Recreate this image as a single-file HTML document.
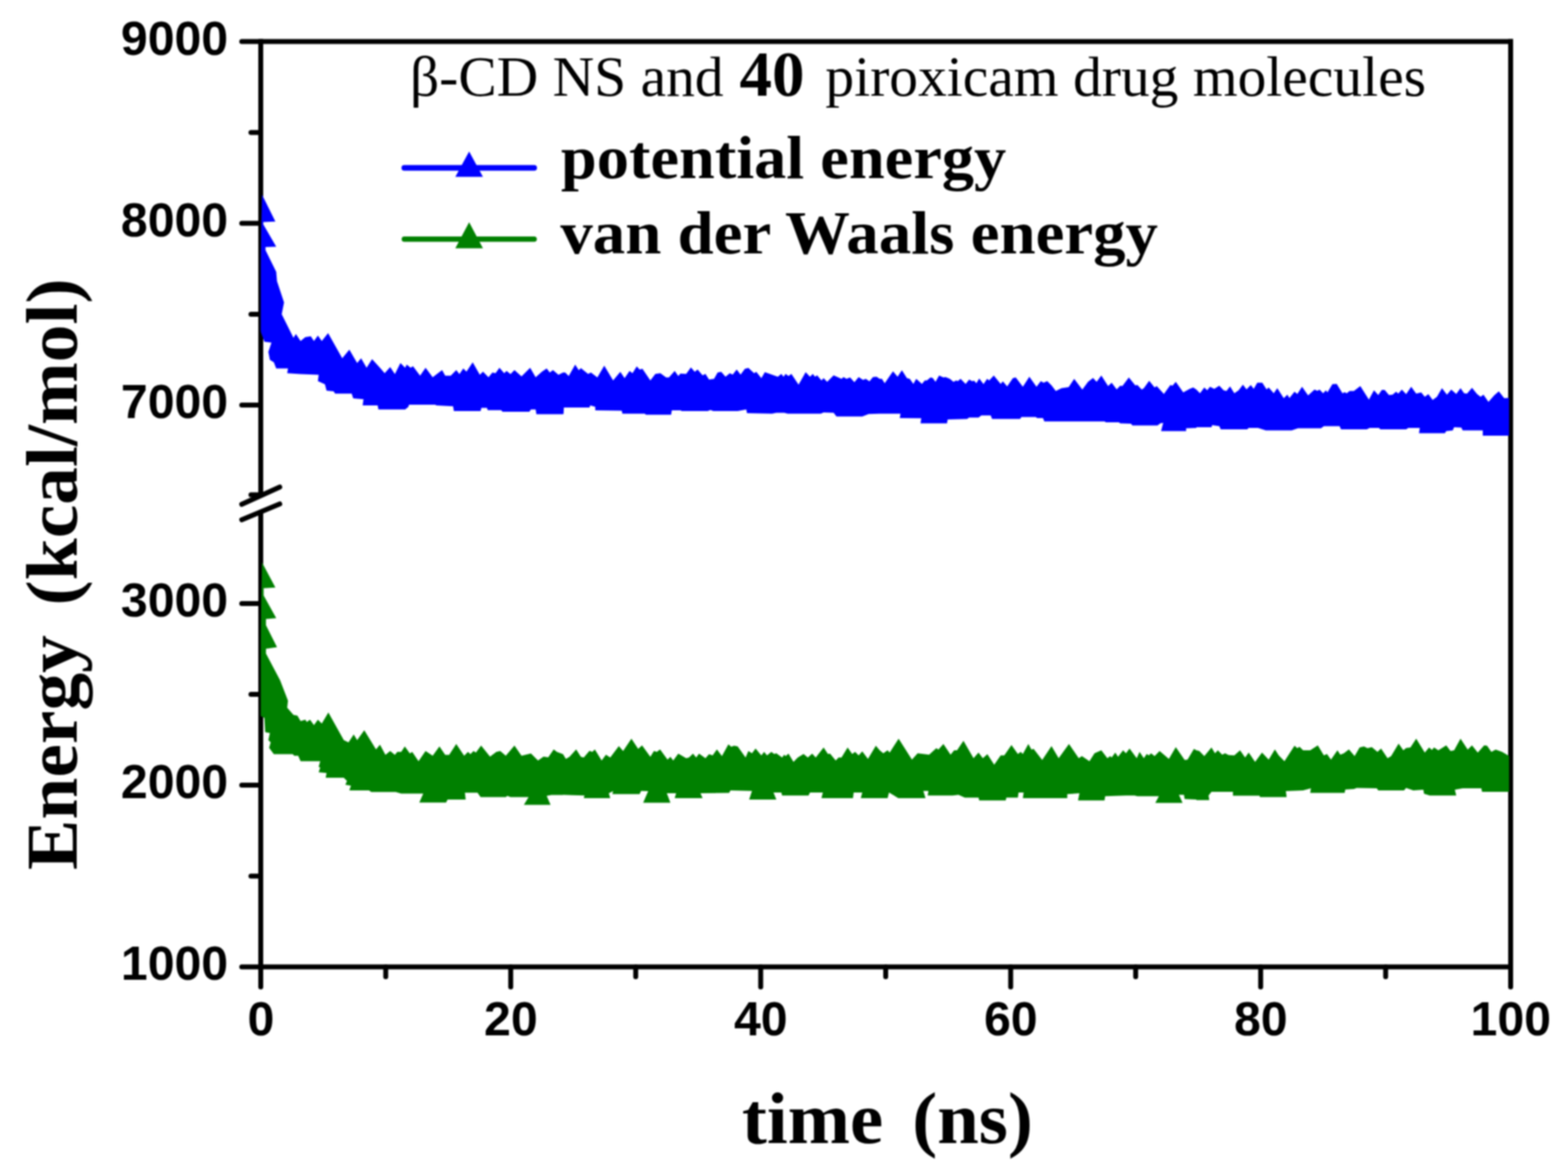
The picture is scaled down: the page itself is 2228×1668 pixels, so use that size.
<!DOCTYPE html>
<html lang="en"><head><meta charset="utf-8"><title>Energy vs time</title>
<style>
html,body{margin:0;padding:0;background:#fff}
body{width:2228px;height:1668px;overflow:hidden}
svg{display:block;filter:blur(1px)}
.ax{stroke:#000;stroke-width:7;fill:none;stroke-linecap:butt}
.tk{stroke-linecap:round}
.tl{font-family:"Liberation Sans",sans-serif;font-weight:700;font-size:68.5px;fill:#000}
.sr{font-family:"Liberation Serif",serif;fill:#000}
.b{font-weight:700}
</style></head><body>
<svg width="2228" height="1668" viewBox="0 0 2228 1668">
<defs><clipPath id="plot"><rect x="370.5" y="59.1" width="1773.8" height="1314.7"/></clipPath></defs>
<rect width="2228" height="1668" fill="#fff"/>
<g class="ax">
<path d="M370.5,59.1 H2150"/>
<path d="M2146.5,55.6 V1373.8"/>
<path d="M370.5,1373.8 H2150"/>
<path d="M370.5,55.6 V704.5"/>
<path d="M370.5,726.5 V1373.8"/>
</g>
<g class="ax tk">
<path d="M343.5,59.1 H370.5"/>
<path d="M343.5,317.3 H370.5"/>
<path d="M343.5,575.5 H370.5"/>
<path d="M343.5,857.4 H370.5"/>
<path d="M343.5,1115.6 H370.5"/>
<path d="M343.5,1373.8 H370.5"/>
<path d="M356.6,188.2 H370.5"/>
<path d="M356.6,446.4 H370.5"/>
<path d="M356.6,703 H370.5"/>
<path d="M356.6,986.5 H370.5"/>
<path d="M356.6,1244.7 H370.5"/>
<path d="M370.5,1373.8 V1402.3"/>
<path d="M725.7,1373.8 V1402.3"/>
<path d="M1080.9,1373.8 V1402.3"/>
<path d="M1436.1,1373.8 V1402.3"/>
<path d="M1791.3,1373.8 V1402.3"/>
<path d="M2146.5,1373.8 V1402.3"/>
<path d="M548.1,1373.8 V1387.7"/>
<path d="M903.3,1373.8 V1387.7"/>
<path d="M1258.5,1373.8 V1387.7"/>
<path d="M1613.7,1373.8 V1387.7"/>
<path d="M1968.9,1373.8 V1387.7"/>
<path d="M343.5,716.5 L397.5,692"/>
<path d="M343.5,738.5 L397.5,716"/>
</g>
<g clip-path="url(#plot)">
<path fill="#0000ff" d="M372.3,276.5 391.3,314.7 374.1,315.4 374.1,318.7 392.5,350.4 377.3,351.1 377.3,355.4 392.5,386.2 393.6,399.6 403.6,429.8 400.3,446.5 410.3,466.6 417,480 420.4,474.4 427.1,484.5 433.8,478.9 441.6,477.8 446.1,484.5 451.7,476.7 457.2,484.5 466.2,473.3 486.3,509.1 496.4,496.8 507.5,515.8 513.1,509.1 520.9,522.5 528.7,510.2 539.9,522.5 546.6,530.3 554.4,521.4 561.1,531.4 569,515.8 575.7,522.5 577.9,518 583.5,522.5 586.8,520.2 596.9,533.7 604.7,522.5 614.8,535.9 628.2,525.8 632.6,533.7 640.5,533.7 648.3,525.8 652.8,531.4 658.3,523.6 662.8,528.1 671.7,514.7 681.8,532.5 686.3,528.1 694.1,535.9 699.7,529.2 704.1,530.3 709.7,522.5 716.4,530.3 719.8,527 725.4,531.4 731,525.8 741,534.8 753.3,522.5 761.1,535.9 770.1,528.1 776.8,523.6 781.2,529.2 785.7,525.8 793.5,532.5 800,529.2 803.1,529.2 808.1,534.3 817.3,518 822.4,526.1 825.4,523.1 835.6,531.2 839.7,529.2 848.8,536.3 858.6,519.4 871.2,540.4 881.4,528.2 887.5,537.3 894.6,527.1 898.7,530.2 904.8,520.6 908.8,525.1 912.9,524.1 924.1,540.4 931.2,531.2 938.3,530.2 946.5,536.3 950.5,536.3 958.7,527.1 963.8,534.3 966.8,530.8 975,531.2 981.7,522 987.2,528.2 991.2,525.1 998.3,533.2 1002.4,531.2 1007.5,539.3 1014.6,538.3 1019.7,529.2 1024.8,528.2 1030.9,535.3 1037,530.2 1041.1,532.2 1046.8,525.1 1052.3,532.2 1058.4,524.1 1063.4,522.7 1071.6,530.2 1074.6,528.2 1081.8,537.3 1086.8,528.8 1105.2,535.3 1110.2,531.2 1113.3,535.3 1116.3,531.2 1120.4,534.3 1124.5,531.2 1134.7,546.5 1144.8,528.8 1150.9,535.3 1155,531.2 1158,535.3 1161.1,533.2 1167.2,540.4 1170.3,537.3 1175.3,542.4 1184.5,533.2 1195.7,538.3 1198.7,535.7 1202.8,538.3 1207.9,536.3 1214,543 1220.1,535.7 1226.2,539.7 1230.3,538.3 1235.4,541.8 1240.4,535.7 1245.5,535.3 1250,538.3 1253.1,538.3 1257.1,544.4 1268.9,527.5 1275.4,535.3 1281.5,526.1 1288.7,537.3 1292.7,538.3 1297.8,545.4 1301.9,538.3 1310,545.4 1314.1,540.4 1317.1,540.4 1322.2,536.3 1325.3,536.9 1329.3,542.4 1334.4,533.6 1340.5,536.3 1343.6,535.7 1349.7,538.3 1354.8,542.4 1358.8,540.4 1360.9,541.4 1364.9,538.3 1372.1,545.4 1377.1,539.3 1381.2,541.4 1384.3,541 1387.3,544.4 1391.4,537.7 1397.5,545.8 1402.6,538.3 1405.6,540.4 1412.1,533.6 1421.9,545.4 1425,541.8 1431.1,549.1 1439.2,537.3 1443.3,536.3 1453.4,549.5 1462.6,535.3 1472.8,549.5 1478.9,541.4 1482.9,543.8 1488,541.4 1494.1,547.5 1500.2,555.6 1508.4,551.5 1518.5,549.9 1526.3,538.3 1537.9,553.6 1546,542.4 1553.1,536.9 1558.2,542.4 1564.9,533.6 1574.5,548.5 1579.6,543.8 1586.7,553.2 1591.8,547.9 1594.8,548.5 1604,536.3 1613.1,547.5 1616.2,547.1 1622.3,553.6 1625.3,551.5 1632.9,541 1640.6,550.5 1643.6,548.5 1653.8,559.7 1663,547.1 1666,547.9 1670.7,542.4 1681.3,557.6 1690.4,552.6 1695.5,550.5 1700,553.6 1705.1,558.7 1711.2,550.5 1715.3,554.6 1719.3,549.5 1725.4,552.6 1732.5,547.9 1738.7,554.6 1742.7,555.6 1747.8,549.1 1753.9,558.7 1760,554.6 1766.1,546.5 1771.2,553.2 1777.3,547.1 1781.4,552.6 1786.5,543.8 1793.6,543.8 1799.7,553.2 1802.7,550.5 1809.9,558.7 1814.9,551.5 1824.1,565.8 1829.2,560.7 1832.2,565.4 1839.4,556.6 1843.4,559.7 1850.1,549.5 1858.7,561.7 1867.8,553.6 1871.9,555.2 1875,553.6 1880,558.7 1884.1,554.6 1886.1,557.6 1893.3,545.8 1899.4,545.4 1907.5,558.7 1910.6,557.2 1913.6,558.7 1917.7,555.6 1923.8,555.6 1932.9,548.5 1945.1,567.8 1952.3,554.6 1958.4,561.3 1963.4,554 1967.5,554 1973.6,561.3 1978.7,560.7 1983.8,556.6 1986.8,559.3 1991.9,553.6 1998,560.1 2005.2,549.5 2012.3,559.3 2019.4,557.6 2024.5,563.8 2029.6,560.1 2035.7,568.2 2041.8,563.8 2048.9,551.5 2056,560.7 2062.1,553.6 2069.2,559.7 2075.3,551.5 2080.4,558.7 2084.5,559.3 2091.6,551.1 2098.7,559.7 2103.8,563.8 2107.9,560.7 2115,570.9 2123.1,561.7 2129.7,556 2137.4,565.8 2150,564.8 2150,619.1 2106.9,619.1 2106.9,611.6 2078.4,611.6 2076.4,607.5 2066.2,606.9 2064.2,611.6 2055,612.6 2053,615.6 2016.3,615.6 2017.4,608.1 2001.1,608.1 1998,610.1 1961.4,610.1 1959.4,608.1 1946.2,608.1 1942.1,610.1 1905.5,610.1 1903.4,605.5 1881.1,605.5 1877,608.5 1844.4,608.5 1835.3,611.6 1798.7,611.6 1787.5,608.1 1774.3,608.1 1772.2,610.1 1734.6,610.1 1732.5,605.5 1722.4,604 1721.4,606.9 1700,606.9 1700,608.1 1685.4,608.5 1685.4,612.6 1649.8,612.6 1652.8,600.8 1648.7,601.4 1644.7,604.4 1609.1,604.4 1607,602 1591.8,601.4 1589.7,600 1571.4,600 1569.4,598.7 1484,598.7 1481.9,593.9 1473.8,593.9 1471.7,592.6 1451.4,592.6 1449.4,595.3 1409.7,595.3 1407.7,590.2 1394.4,590.2 1390.4,593.3 1377.1,593.3 1374.1,595.3 1346.6,595.9 1345.6,601.4 1308,601.4 1309,594.3 1278.5,593.9 1279.5,587.8 1250,587.8 1250,587.8 1234.3,588.2 1225.2,591.8 1188.6,591.8 1184.5,586.5 1170.3,586.1 1166.2,587.8 1119.4,587.8 1114.3,586.5 1103.1,586.5 1097,587.8 1061.4,587.1 1060.4,581.7 1048.2,584.1 1013.6,584.1 1009.5,582.5 1005.5,584.1 968.9,584.1 966.8,583.1 954.6,583.1 953.6,589.2 918,589.2 916,587.8 884.4,587.8 883.4,583.5 845.8,583.1 845.8,578 838.7,576 837.6,579 801.2,579 800.8,587.8 800,588.4 762.2,588.4 761.1,581.7 754.4,581.7 752.2,585 714.2,585 712,582.8 693,582.8 691.9,579.5 684,579.5 682.9,583.9 644.9,583.9 643.8,577.2 620.4,576.1 618.1,575 581.3,575 580.1,578.3 575.7,581.7 537.7,581.7 536.6,576.1 515.3,576.1 516.5,567.2 501.9,566.1 499.7,559.3 476.2,559.3 474,556 464,554.9 461.7,545.9 451.7,541.5 452.8,532.5 427.1,531.4 408.1,530.3 409.2,523.6 392.5,523.6 389.1,514.7 383.5,511.3 381.3,500.1 385.7,486.7 375.7,485.6 367.9,464.4Z"/>
<path fill="#008000" d="M372.3,798.9 391.3,834.7 374.6,835.8 374.6,845.9 392.5,878.3 377.9,879.4 377.9,888.3 393.6,919.6 377.9,921.8 377.9,928.5 398,966.5 409.2,995.6 408.1,1005.6 417,1015.7 422.6,1016.8 427.1,1024.6 433.8,1022.4 436,1025.7 440.5,1022.4 446.1,1030.2 451.7,1022.4 457.2,1028 466.6,1012.3 488.5,1051.4 495.2,1054.8 502.6,1043.6 507.5,1051.4 517.6,1037.6 534.3,1064.8 539.9,1058.1 547.7,1072.6 554.4,1067.1 561.1,1072.6 564.5,1068.2 570.1,1068.2 575.2,1060.4 582.4,1070.4 585.7,1068.2 594.7,1081.6 604.7,1067.1 614.8,1073.8 624.4,1060.4 632.6,1072.6 638.2,1072.6 648.3,1057 659.5,1073.8 665,1068.2 668.4,1071.5 672.9,1067.1 676.2,1069.3 683.6,1059.2 696.3,1074.9 705.3,1068.2 710.8,1067.1 718.7,1073.8 731,1059.2 741,1073.8 754.4,1070.4 764.5,1080.5 772.3,1074.9 779,1076 786.8,1064.8 791.3,1068.2 800,1071.5 804.1,1078.3 809.2,1075.3 818.7,1064.7 825.4,1075.3 829.5,1076.3 837.6,1066.7 841.7,1068.2 845.2,1064.7 854.9,1080.4 861,1072.2 867.1,1076.3 879.3,1060 885.4,1067.1 897.2,1049.4 906.8,1064.1 912.3,1059 924.1,1075.3 929.2,1067.1 933.3,1068.2 937.9,1064.7 948.5,1079.3 952.6,1075.3 956.6,1080.4 963.8,1070.8 975,1077.3 979,1076.3 984.7,1070.8 989.2,1076.3 993.3,1070.8 1002.4,1077.3 1007.5,1071.6 1012.6,1073.2 1018.7,1064.7 1025.8,1074.3 1035,1057.4 1039,1061 1043.1,1059.4 1048.2,1060.6 1059.4,1076.3 1063.4,1067.1 1068.5,1070.2 1073.6,1063.5 1081.8,1073.2 1085.8,1068.2 1089.9,1073.2 1096,1068.2 1100.1,1071.2 1103.1,1070.2 1111.3,1076.3 1114.3,1072.2 1116.3,1074.3 1120.4,1070.8 1127.5,1082.4 1133.6,1076.3 1141.8,1071.2 1147.9,1076.3 1154,1070.8 1159.1,1076.3 1170.3,1062 1176.4,1071.2 1179.4,1070.8 1187.5,1080.4 1191.6,1076.3 1195.7,1076.3 1204.4,1062 1210.9,1071.2 1215,1068.2 1220.1,1073.2 1225.2,1067.5 1233.3,1078.3 1244.5,1059.4 1250,1066.1 1255.1,1070.2 1261.2,1066.1 1264.2,1069.2 1276.9,1049.4 1295.8,1079.3 1303.9,1070.2 1320.2,1072.2 1330.4,1063.1 1333.4,1065.1 1340.5,1057 1350.7,1072.2 1355.8,1066.1 1359.9,1066.1 1369,1052.5 1383.3,1077.3 1390.4,1069.2 1396.5,1077.3 1403,1071.6 1412.7,1086.5 1421.9,1073.2 1427,1073.2 1437.2,1058.6 1446.3,1071.2 1450.4,1068.2 1453.4,1071.2 1461.2,1057 1465.6,1065.1 1468.7,1064.1 1480.9,1079.7 1494.1,1060 1504.3,1077.3 1518.9,1057 1532.8,1077.3 1537.3,1074.3 1548,1081.4 1555.2,1070.2 1564.9,1066.1 1573.5,1077.3 1577.5,1074.3 1579.6,1076.3 1584.7,1069.2 1588.7,1075.3 1595.8,1066.1 1599.9,1070.2 1605,1063.5 1615.2,1077.3 1619.2,1068.2 1625.3,1077.3 1629.4,1071.2 1632.5,1073.2 1635.5,1070.2 1640.6,1074.3 1647.7,1067.1 1660.9,1078.3 1670.7,1061.4 1683.3,1079.7 1687.4,1079.3 1696.5,1064.1 1700,1066.1 1704.1,1067.1 1711.2,1074.3 1721.4,1062 1726.4,1070.2 1730.5,1066.1 1736.6,1072.2 1740.7,1070.2 1745.8,1072.8 1753.9,1073.2 1762,1066.1 1769.2,1076.3 1774.3,1069.2 1783.4,1082.4 1793.2,1069.2 1802.7,1079.3 1811.5,1064.7 1817,1073.2 1825.1,1081.4 1839.4,1059.6 1843.4,1063.1 1846.5,1061 1851.6,1066.1 1861.7,1066.1 1872.5,1059 1881.1,1073.2 1885.5,1071.2 1891.2,1079.3 1900.4,1066.1 1904.5,1072.2 1909.5,1070.2 1916.7,1064.7 1924.8,1074.3 1931.9,1062 1938,1060.6 1943.1,1063.1 1949.2,1061.4 1957.3,1068.2 1962.4,1063.5 1971.6,1077.3 1976.7,1074.3 1987.3,1056.6 1994,1066.1 1998,1062.7 2004.1,1062 2012.3,1049.4 2024.5,1069.2 2030.6,1062 2034.7,1065.5 2037.7,1062 2043.8,1066.1 2055,1059 2061.1,1067.1 2066.2,1066.1 2075.3,1049.4 2085.5,1065.1 2091.6,1059 2099.8,1069.2 2108.9,1059 2113,1059.4 2119.1,1068.2 2125.2,1065.1 2134.3,1068.2 2150,1077.3 2150,1125.1 2105.9,1125.1 2104.8,1120 2078.4,1120 2067.2,1122.1 2069.2,1130.2 2031.6,1130.2 2023.5,1127.8 2022.4,1122.1 2008.2,1123.1 1998,1119.6 1995,1123.1 1958.4,1123.1 1956.3,1120 1927.8,1119.6 1923.8,1121 1911.6,1121.7 1910.6,1126.5 1861.7,1126.5 1862.7,1120 1851.6,1123.1 1827.1,1124.1 1828.2,1132.6 1790.5,1132.6 1789.5,1130.6 1751.9,1130.6 1751.9,1125.1 1721.4,1125.1 1717.3,1130.2 1718.3,1136.7 1700,1136.7 1700,1135.9 1683.3,1135.3 1682.3,1129.2 1675.2,1129.2 1680.3,1140.8 1641.6,1140.8 1646.7,1131.2 1616.2,1131.2 1612.1,1130.2 1599.9,1130.2 1570.4,1131.2 1569.4,1137.3 1531.8,1137.3 1533.8,1127.1 1516.5,1128.2 1516.5,1133.9 1453.4,1133.9 1454.5,1126.1 1447.3,1126.1 1446.3,1133.3 1430,1133.3 1429,1137.3 1391.4,1137.3 1390.4,1133.3 1371,1133.3 1361.9,1129.2 1353.8,1130.2 1318.2,1130.2 1319.2,1123.7 1312,1123.7 1315.1,1133.9 1276.4,1133.9 1263.2,1126.1 1261.2,1133.9 1250,1133.9 1250,1133.9 1223.1,1133.9 1225.2,1126.1 1213,1126.1 1212,1133.9 1167.2,1133.9 1169.2,1126.1 1150.9,1126.1 1148.9,1130.2 1111.3,1130.2 1110.2,1126.1 1099.1,1126.1 1103.1,1135.9 1064.5,1135.9 1068.5,1123.7 1038,1123.1 1036,1126.5 995.3,1127.1 998.3,1133.9 958.7,1133.9 960.7,1127.1 947.5,1127.1 952.6,1140.4 913.9,1140.4 921,1124.1 910.9,1123.7 908.8,1128.2 870.2,1128.2 871.2,1124.1 865.1,1127.1 867.1,1133.9 829.5,1133.9 830.5,1130.2 813.2,1129.8 800,1129.2 800,1129.6 783.5,1129.6 776.8,1130.7 782.3,1143.5 744.4,1143.5 751.1,1132.5 725.4,1132.5 720.9,1130.7 718.7,1132.5 682.9,1132.5 678.5,1126.3 660.6,1126.3 661.7,1135.9 636,1135.9 633.8,1140.3 595.8,1140.3 601.4,1127.4 570.1,1127.4 562.3,1125.2 527.6,1125.2 524.3,1122.9 496.4,1122.9 498.6,1116.2 490.8,1115.1 493,1109.5 488.5,1105 462.8,1105 464,1098.3 452.8,1097.2 455,1090.5 452.8,1089.4 455,1081.6 427.1,1081.6 423.7,1073.8 418.1,1073.8 415.9,1071.5 389.1,1071.5 382.4,1062.6 384.6,1054.8 381.3,1051.4 383.5,1041.4 376.8,1040.2 375.7,1020.1 367.9,1015.7Z"/>
</g>
<g class="tl" text-anchor="end">
<text x="324.2" y="77.5">9000</text>
<text x="324.2" y="335.7">8000</text>
<text x="324.2" y="593.9">7000</text>
<text x="324.2" y="875.8">3000</text>
<text x="324.2" y="1134">2000</text>
<text x="324.2" y="1392.2">1000</text>
</g>
<g class="tl" text-anchor="middle">
<text x="370.7" y="1471.2">0</text>
<text x="725.9" y="1471.2">20</text>
<text x="1081.1" y="1471.2">40</text>
<text x="1436.3" y="1471.2">60</text>
<text x="1791.5" y="1471.2">80</text>
<text x="2146.7" y="1471.2">100</text>
</g>
<path d="M574.5,238.6 H759" stroke="#0000ff" stroke-width="8" stroke-linecap="round" fill="none"/>
<path d="M666.6,215.2 L686.2,251.2 H647 Z" fill="#0000ff"/>
<path d="M574.5,339.7 H759" stroke="#008000" stroke-width="7.6" stroke-linecap="round" fill="none"/>
<path d="M666.6,315.8 L686.2,352.8 H647 Z" fill="#008000"/>
<text class="sr" transform="translate(0,135.50) scale(1.0093,1)" font-size="81"><tspan x="577.08">β-CD NS and</tspan> <tspan x="1041.17" class="b" font-size="91.4">40</tspan> <tspan x="1162.03">piroxicam drug molecules</tspan></text>
<text class="sr b" transform="translate(0,253.30) scale(1.0516,1)" font-size="87"><tspan x="758.01">potential energy</tspan></text>
<text class="sr b" transform="translate(0,360.30) scale(1.0595,1)" font-size="87"><tspan x="751.56">van der Waals energy</tspan></text>
<text class="sr b" transform="translate(0,1623.50) scale(1.0224,1)" font-size="104"><tspan x="1031.23">time</tspan> <tspan x="1267.87">(ns)</tspan></text>
<text class="sr b" transform="translate(108.50,1233.80) rotate(-90) scale(1.0314,1)" font-size="104"><tspan x="-2.10">Energy</tspan> <tspan x="362.23">(kcal/mol)</tspan></text>
</svg></body></html>
